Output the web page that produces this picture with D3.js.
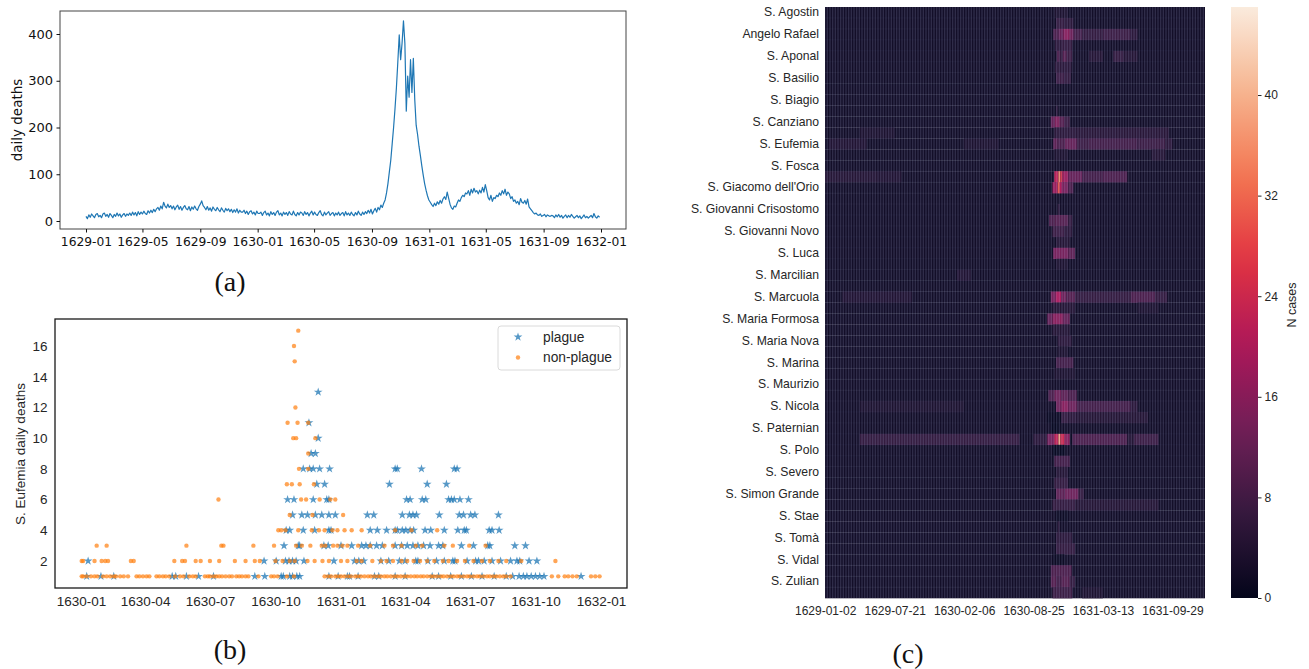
<!DOCTYPE html>
<html><head><meta charset="utf-8">
<script src="https://cdn.jsdelivr.net/npm/d3@7"></script>
<style>body{margin:0;background:#fff} svg{display:block}</style>
</head><body>
<svg id="fig" width="1309" height="669"></svg>
<script>
// ================= DATA =================
// (a) city-wide daily deaths, one estimate every 3 days from 1629-01-01
const dailyStart = "1629-01-01";
const dailyStepDays = 3;
const dailyDeaths = [
10,5,13,8,15,11,7,14,16,9,12,7,15,17,10,14,8,16,12,7,14,10,17,11,15,8,13,16,10,15,12,
17,12,19,13,18,11,20,14,19,15,
21,16,14,22,17,23,18,25,20,26,
29,23,32,26,40,32,28,36,29,33,
26,32,24,30,34,25,31,23,29,33,26,24,31,22,30,25,32,26,23,31,
36,43,33,
29,24,31,23,28,21,30,25,22,29,24,20,28,23,19,27,22,26,20,25,18,24,19,26,17,23,19,
19,23,16,21,14,20,22,15,19,13,21,16,
16,19,12,18,21,13,17,11,20,14,18,12,19,22,13,17,11,19,14,18,
12,20,15,13,21,14,11,18,13,19,17,12,20,14,18,11,17,21,13,19,
14,12,18,22,14,11,19,13,17,20,12,16,18,11,17,13,19,12,16,18,
11,20,13,17,12,19,14,11,18,13,21,15,12,19,14,20,16,23,
17,25,15,22,27,19,29,24,34,29,38,
45,60,80,105,130,165,200,240,285,340,398,345,380,428,380,235,310,265,345,275,348,260,205,185,160,
140,118,98,80,66,54,45,40,35,31,38,33,41,36,44,38,47,52,46,62,49,36,28,25,
32,30,38,45,42,50,55,52,60,58,65,55,68,60,70,62,65,58,66,60,72,62,78,65,50,45,55,42,50,48,55,52,60,55,65,58,68,55,62,58,
48,52,42,45,38,42,35,48,40,38,44,36,47,30,26,22,18,15,17,13,12,15,10,12,14,9,13,11,10,12,
11,7,13,9,14,8,12,6,10,13,7,12,8,14,10,6,9,12,7,11,5,9,13,7,10,6,9,12,7,16,9,6,11,8
];
const aXTicks = ["1629-01","1629-05","1629-09","1630-01","1630-05","1630-09","1631-01","1631-05","1631-09","1632-01"];
const aYTicks = [0,100,200,300,400];

// (b) S. Eufemia daily deaths: [count, days since 1630-01-01]
const bStart = "1630-01-01";
const plagueByCount = [
 [1,[8,28,46,128,133,148,165,186,244,258,281,284,293,297,303,307,348,361,374,377,389,412,418,441,455,493,502,519,534,548,563,580,597,606,615,621,626,632,638,644,650,702]],
 [2,[10,257,274,287,292,297,302,313,355,384,390,397,421,432,447,455,470,473,487,499,510,522,525,542,554,558,566,577,589,603,612,616,629,640]],
 [3,[285,305,307,341,347,365,380,394,400,406,415,423,441,450,458,466,473,481,490,502,508,534,551,571,574,609,624]],
 [4,[288,293,312,328,348,351,406,416,429,441,444,451,456,462,467,483,491,510,529,538,541,573,577,587]],
 [5,[297,310,318,329,338,348,357,402,411,451,461,466,471,503,531,537,547,553,586]],
 [6,[290,299,326,345,348,457,462,479,484,516,520,524,532,544]],
 [7,[331,342,433,486,513]],
 [8,[312,321,326,335,349,441,444,478,524,528]],
 [9,[323,329]],
 [10,[333]],
 [11,[320]],
 [13,[333]]
];
const nonPlagueByCount = [
 [1,[1,3,8,14,19,23,31,36,41,46,49,55,60,66,78,82,87,92,96,106,110,115,119,124,132,139,144,152,157,161,174,178,181,186,190,194,198,203,208,212,218,222,226,231,235,249,267,271,276,289,299,
     342,347,351,357,361,365,370,375,379,385,389,393,398,403,407,412,417,421,426,430,435,440,444,449,454,458,463,468,472,477,481,486,491,495,500,505,509,514,519,523,528,532,537,542,546,551,556,560,565,570,574,579,583,588,593,597,603,661,670,679,684,690,696,716,722,728]],
 [2,[1,3,19,29,34,38,70,74,131,142,146,161,168,181,194,216,231,244,251,273,283,293,300,318,328,339,348,365,374,387,394,409,421,429,438,450,458,467,476,486,496,508,516,528,539,551,563,574,586,597,618,666]],
 [3,[22,36,148,197,200,242,271,302,310,322,338,343,354,360,367,374,389,406,426,438,450,470,479,510,522,545,568]],
 [4,[277,281,287,305,324,334,342,353,360,370,380,394,441,464,500]],
 [5,[293,325,368]],
 [6,[193,309,316,335,350,357]],
 [7,[289,296,307,327]],
 [8,[306,319]],
 [9,[319]],
 [10,[298,302,329]],
 [11,[290,304,319]],
 [12,[301]],
 [15,[300]],
 [16,[299]],
 [17,[305]]
];
const bXTicks = ["1630-01","1630-04","1630-07","1630-10","1631-01","1631-04","1631-07","1631-10","1632-01"];
const bYTicks = [2,4,6,8,10,12,14,16];
const bLegend = ["plague","non-plague"];

// (c) parish heatmap: 54 parishes x 1094 days from 1629-01-02
const heatStart = "1629-01-02";
const heatDays = 1094;
const nParishes = 54;
const parishTickLabels = ["S. Agostin","Angelo Rafael","S. Aponal","S. Basilio","S. Biagio","S. Canziano","S. Eufemia","S. Fosca",
 "S. Giacomo dell'Orio","S. Giovanni Crisostomo","S. Giovanni Novo","S. Luca","S. Marcilian","S. Marcuola","S. Maria Formosa",
 "S. Maria Nova","S. Marina","S. Maurizio","S. Nicola","S. Paternian","S. Polo","S. Severo","S. Simon Grande","S. Stae","S. Tomà","S. Vidal","S. Zulian"];
const heatBase = 1.5;
// per parish row: [startDay, endDay, cases]
const heatRows = [
 [[660,700,3]],
 [[665,690,6],[690,715,5]],
 [[657,672,9],[672,686,12],[686,705,16],[705,716,13],[716,740,8],[740,800,6],[800,880,7],[880,900,5]],
 [[662,680,5],[680,712,6]],
 [[667,676,9],[676,684,6],[684,696,10],[696,712,7],[760,800,4],[830,860,6],[860,900,4]],
 [[662,710,5]],
 [[665,690,7],[690,708,6]],
 [],
 [],
 [[665,670,5]],
 [[650,662,12],[662,676,15],[676,690,10],[690,705,7]],
 [[100,200,3],[660,720,5],[720,990,4.5]],
 [[10,120,3.5],[400,500,3],[657,670,11],[670,690,9],[690,725,12],[725,760,7],[760,900,8],[900,980,7],[980,1000,5]],
 [[660,700,3],[940,980,4]],
 [],
 [[0,150,4],[150,220,3.5],[660,672,22],[672,678,35],[678,684,25],[684,700,18],[700,740,12],[740,800,8],[800,870,9]],
 [[655,670,18],[670,676,30],[676,682,20],[682,700,14],[700,715,9]],
 [],
 [[670,676,5]],
 [[645,660,9],[660,700,10],[700,712,6]],
 [[655,690,7],[690,712,5]],
 [[665,705,4]],
 [[657,700,14],[700,720,11]],
 [[665,700,3]],
 [[380,420,3.5]],
 [],
 [[50,250,3.5],[650,665,14],[665,680,20],[680,695,13],[695,720,10],[720,880,6],[880,950,9],[950,985,6]],
 [[655,720,4],[900,960,3]],
 [[640,655,12],[655,685,16],[685,705,12]],
 [[655,705,4]],
 [[670,710,5]],
 [[670,700,3]],
 [[665,715,8]],
 [[660,720,3]],
 [],
 [[643,660,9],[660,680,13],[680,700,11],[700,725,9]],
 [[100,400,3],[665,680,13],[680,700,16],[700,725,13],[725,880,8],[880,900,5]],
 [[640,680,0.5],[680,700,6],[700,725,5],[725,930,4]],
 [[650,675,0.3]],
 [[100,560,6],[600,640,5],[640,660,14],[660,672,22],[672,678,38],[678,690,24],[690,705,16],[705,712,1],[712,870,9],[870,890,4],[890,960,7]],
 [[655,690,0.3]],
 [[660,705,8]],
 [[665,700,4]],
 [[660,700,6]],
 [[665,690,11],[690,730,13],[730,745,6]],
 [[655,720,6],[720,960,4]],
 [[665,700,0.8]],
 [[670,675,5]],
 [[665,712,5]],
 [[665,720,6]],
 [[655,690,0.8]],
 [[650,710,9]],
 [[650,665,10],[665,680,8],[680,705,10],[705,720,6]],
 [[655,712,7],[740,800,3]]
];
const heatXTicks = ["1629-01-02","1629-07-21","1630-02-06","1630-08-25","1631-03-13","1631-09-29"];
const cbTicks = [0,8,16,24,32,40];
const cbMax = 47;
const rocketStops = [0,1/7,2/7,3/7,4/7,5/7,6/7,1];
const rocketColors = ["#03051a","#35193e","#701f57","#ad1759","#e13342","#f37651","#f6b48f","#faebdd"];

// ================= DRAW =================
const parseDay = d3.utcParse("%Y-%m-%d");
const parseMonth = d3.utcParse("%Y-%m");
const svg = d3.select("#fig");
svg.append("rect").attr("width",1309).attr("height",669).attr("fill","#fff");
const defs = svg.append("defs");

function styleAxis(g, font, size, color){
  g.attr("font-family", font).attr("font-size", size).attr("color", color);
  g.select(".domain").remove();
}

// ---------- Panel (a) ----------
const aBox = {x0:60, x1:626, y0:11, y1:229};
const xA = d3.scaleUtc().domain([parseMonth("1629-01"), parseMonth("1632-01")]).range([86, 601]);
const yA = d3.scaleLinear().domain([0,400]).range([221, 34]);
const tA0 = parseDay(dailyStart);
const aPts = dailyDeaths.map((v,i)=>[d3.utcDay.offset(tA0, i*dailyStepDays), v]);
const gA = svg.append("g");
gA.append("path").datum(aPts)
  .attr("d", d3.line().x(d=>xA(d[0])).y(d=>yA(d[1])))
  .attr("fill","none").attr("stroke","#1f77b4").attr("stroke-width",1.2).attr("stroke-linejoin","round");
gA.append("rect").attr("x",aBox.x0).attr("y",aBox.y0).attr("width",aBox.x1-aBox.x0).attr("height",aBox.y1-aBox.y0)
  .attr("fill","none").attr("stroke","#444").attr("stroke-width",1);
gA.append("g").attr("transform",`translate(0,${aBox.y1})`)
  .call(d3.axisBottom(xA).tickValues(aXTicks.map(parseMonth)).tickFormat(d3.utcFormat("%Y-%m")).tickSize(3.5).tickPadding(4.5))
  .call(g=>styleAxis(g,"DejaVu Sans",12.3,"#111"));
gA.append("g").attr("transform",`translate(${aBox.x0},0)`)
  .call(d3.axisLeft(yA).tickValues(aYTicks).tickSize(3.5).tickPadding(3.5))
  .call(g=>styleAxis(g,"DejaVu Sans",13,"#111"));
gA.append("text").attr("transform","translate(22,120) rotate(-90)").attr("text-anchor","middle")
  .attr("font-family","DejaVu Sans").attr("font-size",13.5).attr("fill","#111").text("daily deaths");

// ---------- Panel (b) ----------
const bBox = {x0:55, x1:627, y0:319, y1:588};
const tB0 = parseDay(bStart);
const xB = d3.scaleUtc().domain([tB0, parseDay("1632-01-01")]).range([81, 601]);
const yB = d3.scaleLinear().domain([2,16]).range([561, 346]);
const gB = svg.append("g");
const starPath = d3.symbol().type(d3.symbolStar).size(24)();
const plaguePts = plagueByCount.flatMap(([c,days])=>days.map(d=>[d3.utcDay.offset(tB0,d), c]));
const nonPts = nonPlagueByCount.flatMap(([c,days])=>days.map(d=>[d3.utcDay.offset(tB0,d), c]));
gB.append("g").selectAll("path").data(plaguePts).join("path")
  .attr("d", starPath).attr("transform", d=>`translate(${xB(d[0])},${yB(d[1])})`)
  .attr("fill","#1f77b4").attr("fill-opacity",0.75);
gB.append("g").selectAll("circle").data(nonPts).join("circle")
  .attr("cx", d=>xB(d[0])).attr("cy", d=>yB(d[1])).attr("r",2.2)
  .attr("fill","#ff7f0e").attr("fill-opacity",0.7);
gB.append("rect").attr("x",bBox.x0).attr("y",bBox.y0).attr("width",bBox.x1-bBox.x0).attr("height",bBox.y1-bBox.y0)
  .attr("fill","none").attr("stroke","#1a1a1a").attr("stroke-width",1.3);
gB.append("g").attr("transform",`translate(0,${bBox.y1})`)
  .call(d3.axisBottom(xB).tickValues(bXTicks.map(parseMonth)).tickFormat(d3.utcFormat("%Y-%m")).tickSize(0).tickPadding(8.5))
  .call(g=>styleAxis(g,"Liberation Sans, Arial, sans-serif",13.5,"#262626"));
gB.append("g").attr("transform",`translate(${bBox.x0},0)`)
  .call(d3.axisLeft(yB).tickValues(bYTicks).tickSize(0).tickPadding(7.5))
  .call(g=>styleAxis(g,"Liberation Sans, Arial, sans-serif",13.5,"#262626"));
gB.append("text").attr("transform","translate(25,454) rotate(-90)").attr("text-anchor","middle")
  .attr("font-family","Liberation Sans, Arial, sans-serif").attr("font-size",13.5).attr("fill","#262626")
  .text("S. Eufemia daily deaths");
// legend
const lg = gB.append("g");
lg.append("rect").attr("x",498).attr("y",326).attr("width",122).attr("height",44).attr("rx",3)
  .attr("fill","#fff").attr("fill-opacity",0.85).attr("stroke","#d0d0d0").attr("stroke-width",0.8);
lg.append("path").attr("d", d3.symbol().type(d3.symbolStar).size(24)()).attr("transform","translate(518,337)")
  .attr("fill","#1f77b4").attr("fill-opacity",0.75);
lg.append("circle").attr("cx",518).attr("cy",357.5).attr("r",2.2).attr("fill","#ff7f0e").attr("fill-opacity",0.7);
lg.selectAll("text").data(bLegend).join("text")
  .attr("x",543).attr("y",(d,i)=>337+i*20.5).attr("dy","0.35em")
  .attr("font-family","Liberation Sans, Arial, sans-serif").attr("font-size",13.8).attr("fill","#262626").text(d=>d);

// ---------- Panel (c) ----------
const hBox = {x0:825, x1:1205, y0:7, y1:598};
const rocket = d3.scaleLinear().domain(rocketStops.map(t=>t*cbMax)).range(rocketColors).interpolate(d3.interpolateRgb).clamp(true);
const xH = d3.scaleLinear().domain([0, heatDays]).range([hBox.x0, hBox.x1]);
const yH = d3.scaleBand().domain(d3.range(nParishes)).range([hBox.y0, hBox.y1]);
const gC = svg.append("g");
gC.append("g").selectAll("rect").data(d3.range(nParishes)).join("rect")
  .attr("x", xH(0)).attr("width", xH(heatDays)-xH(0))
  .attr("y", r=>yH(r)).attr("height", yH.bandwidth()+0.3)
  .attr("fill", rocket(heatBase));
const segs = heatRows.flatMap((row,r)=>row.map(s=>({r, c0:s[0], c1:s[1], v:s[2]})));
gC.append("g").selectAll("rect").data(segs).join("rect")
  .attr("x", d=>xH(d.c0)).attr("width", d=>xH(d.c1)-xH(d.c0))
  .attr("y", d=>yH(d.r)).attr("height", yH.bandwidth()+0.3)
  .attr("fill", d=>rocket(d.v));
// raster texture of the original render (light cell edges)
const pat = defs.append("pattern").attr("id","vstripes").attr("patternUnits","userSpaceOnUse").attr("width",1.6).attr("height",8);
pat.append("rect").attr("width",0.6).attr("height",8).attr("fill","#c4ccff").attr("fill-opacity",0.27);
gC.append("rect").attr("x",hBox.x0).attr("y",hBox.y0).attr("width",hBox.x1-hBox.x0).attr("height",hBox.y1-hBox.y0)
  .attr("fill","url(#vstripes)");
gC.append("g").selectAll("line").data(d3.range(1,nParishes)).join("line")
  .attr("x1",hBox.x0).attr("x2",hBox.x1).attr("y1",r=>yH(r)).attr("y2",r=>yH(r))
  .attr("stroke","#c4ccff").attr("stroke-opacity",0.06).attr("stroke-width",0.8);
// axes
const tH0 = parseDay(heatStart);
const heatTickCols = heatXTicks.map(s=>d3.utcDay.count(tH0, parseDay(s)));
gC.append("g").attr("transform",`translate(0,${hBox.y1})`)
  .call(d3.axisBottom(xH).tickValues(heatTickCols.map(c=>c+0.5)).tickFormat((d,i)=>heatXTicks[i]).tickSize(0).tickPadding(8))
  .call(g=>styleAxis(g,"Liberation Sans, Arial, sans-serif",12,"#262626"));
const labelRows = parishTickLabels.map((n,i)=>i*2);
gC.append("g").attr("transform",`translate(${hBox.x0},0)`)
  .call(d3.axisLeft(yH).tickValues(labelRows).tickFormat((d,i)=>parishTickLabels[i]).tickSize(0).tickPadding(6))
  .call(g=>styleAxis(g,"Liberation Sans, Arial, sans-serif",12.2,"#262626"));
// colorbar
const cb = {x0:1231, x1:1258, y0:7, y1:598};
const grad = defs.append("linearGradient").attr("id","rocketGrad").attr("x1",0).attr("y1",1).attr("x2",0).attr("y2",0);
d3.range(0,1.0001,0.05).forEach(t=>grad.append("stop").attr("offset",t).attr("stop-color",rocket(t*cbMax)));
gC.append("rect").attr("x",cb.x0).attr("y",cb.y0).attr("width",cb.x1-cb.x0).attr("height",cb.y1-cb.y0).attr("fill","url(#rocketGrad)");
const yCB = d3.scaleLinear().domain([0,cbMax]).range([cb.y1, cb.y0]);
gC.append("g").attr("transform",`translate(${cb.x1},0)`)
  .call(d3.axisRight(yCB).tickValues(cbTicks).tickSize(3.5).tickPadding(3))
  .call(g=>styleAxis(g,"Liberation Sans, Arial, sans-serif",12,"#262626"));
gC.append("text").attr("transform","translate(1296,305) rotate(-90)").attr("text-anchor","middle")
  .attr("font-family","Liberation Sans, Arial, sans-serif").attr("font-size",12.5).attr("fill","#262626").text("N cases");

// ---------- captions ----------
const captions = [["(a)",230,291],["(b)",230,659],["(c)",908,663]];
svg.append("g").selectAll("text").data(captions).join("text")
  .attr("x",d=>d[1]).attr("y",d=>d[2]).attr("text-anchor","middle")
  .attr("font-family","Liberation Serif, DejaVu Serif, serif").attr("font-size",28).attr("fill","#111").text(d=>d[0]);
</script>
</body></html>
